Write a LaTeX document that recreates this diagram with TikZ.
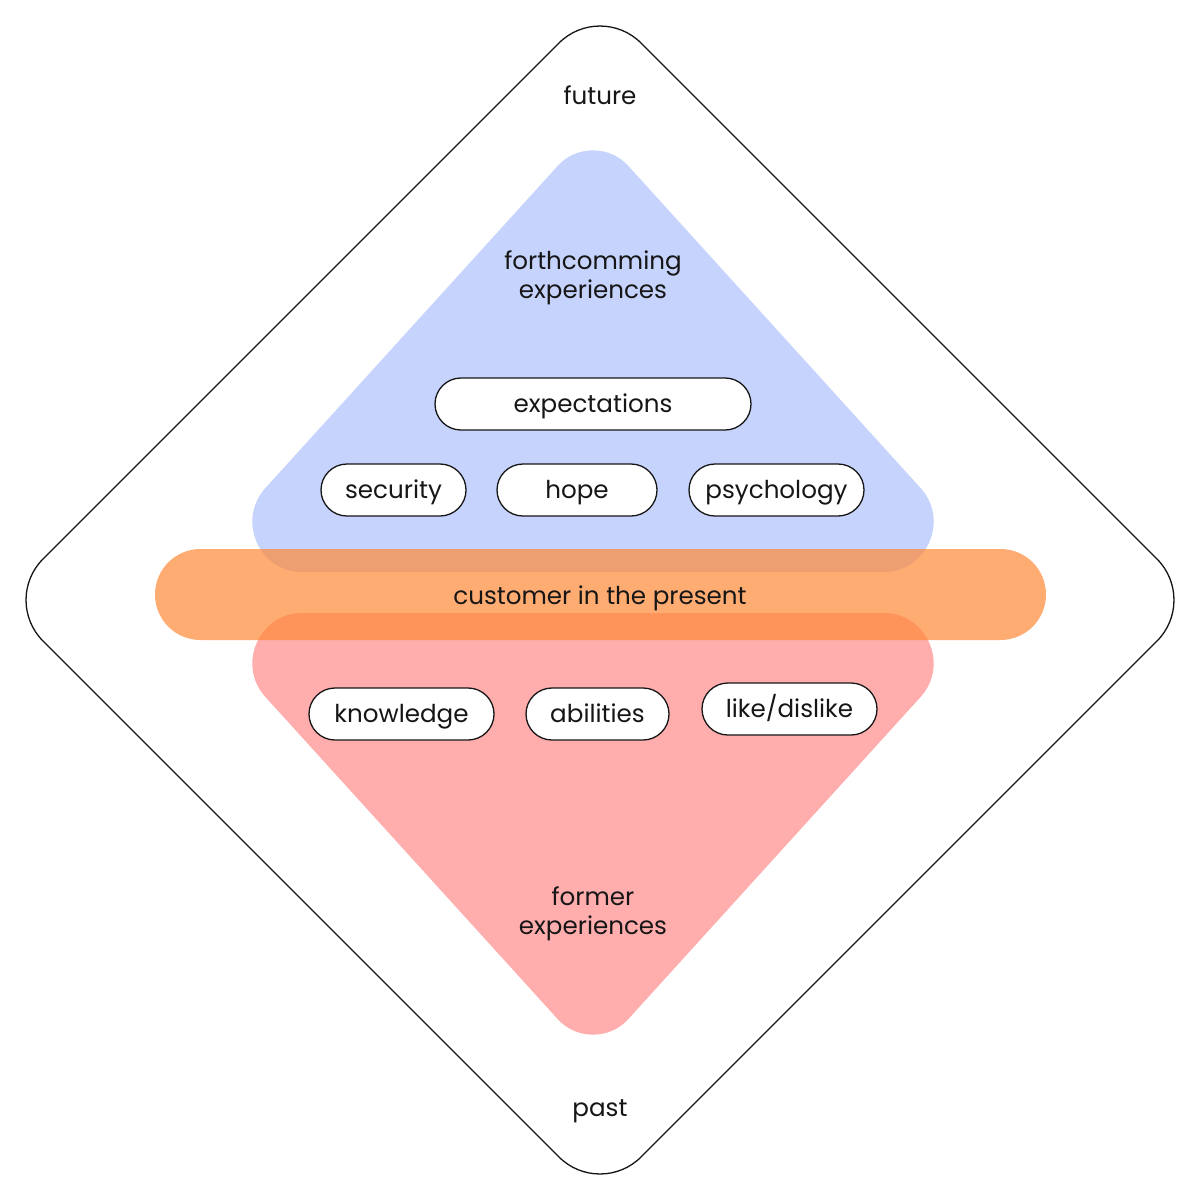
\documentclass[tikz,border=0pt]{standalone}
\usepackage{fontspec}
\setmainfont{Poppins}
\usetikzlibrary{calc}
\definecolor{bluefill}{RGB}{198,211,252}
\definecolor{redfill}{RGB}{255,173,173}
\definecolor{bandfill}{RGB}{255,138,56}
\definecolor{ink}{RGB}{22,22,22}
\newcommand{\lblfont}{\fontsize{12.3}{14.5}\selectfont}
\tikzset{
  pill/.style={draw=ink, line width=0.65pt, fill=white, rounded corners=13pt,
    minimum height=26pt, inner sep=0pt, font=\lblfont, text=ink,
    text height=9.6pt, text depth=1pt},
  plain/.style={font=\lblfont, text=ink, align=center, inner sep=0pt},
  outline/.style={draw=ink, line width=0.65pt}
}
\begin{document}
\begin{tikzpicture}[x=0.5pt,y=-0.5pt]
\useasboundingbox (0,0) rectangle (1200,1200);
\fill[white] (0,0) rectangle (1200,1200);
% outer diamond
\draw[outline, rounded corners=29pt] (600,2) -- (1198,600) -- (600,1198) -- (2,600) -- cycle;
% blue triangle (future)
\fill[bluefill] (557.0,166.7) -- (265.1,488.4)
  .. controls (236.4,520.5) and (259.2,572) .. (302.1,572)
  -- (883.9,572)
  .. controls (926.8,572) and (949.6,520.5) .. (920.9,488.4)
  -- (629.0,166.7)
  .. controls (610.2,144.9) and (575.8,144.9) .. (557.0,166.7) -- cycle;
% red triangle (past)
\fill[redfill] (557.0,1018.3) -- (265.1,696.6)
  .. controls (236.4,664.5) and (259.2,613) .. (302.1,613)
  -- (883.9,613)
  .. controls (926.8,613) and (949.6,664.5) .. (920.9,696.6)
  -- (629.0,1018.3)
  .. controls (610.2,1040.1) and (575.8,1040.1) .. (557.0,1018.3) -- cycle;
% orange band
\fill[bandfill, fill opacity=0.7, rounded corners=22.75pt] (155,549) rectangle (1046,640);
% texts
\node[plain] (future) at (600,95) {future};
\node[plain] (past) at (600,1111) {past};
\node[plain] (forth) at (593,278) {forthcomming\\experiences};
\node[plain] (former) at (593,914) {former\\experiences};
\node[plain] (present) at (600,598) {customer in the present};
% pills
\node[pill, minimum width=158pt] (expect) at (593,404) {expectations};
\node[pill, minimum width=72.5pt] (security) at (393.5,490) {security};
\node[pill, minimum width=80pt] (hope) at (577,490) {hope};
\node[pill, minimum width=87.5pt] (psych) at (776.5,490) {psychology};
\node[pill, minimum width=92.5pt] (know) at (401.5,714) {knowledge};
\node[pill, minimum width=71.5pt] (abil) at (597.5,714) {abilities};
\node[pill, minimum width=87.5pt] (like) at (789.5,709) {like/dislike};
\end{tikzpicture}
\end{document}
